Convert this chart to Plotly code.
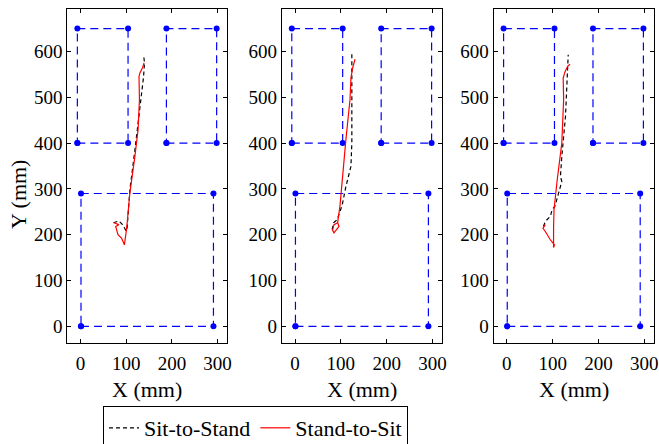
import plotly.graph_objects as go

# ---- data ----
rect_ul_x = [-7, 104, 104, -7, -7]
rect_ul_y = [400, 400, 650, 650, 400]
rect_ur_x = [188, 298, 298, 188, 188]
rect_ur_y = [400, 400, 650, 650, 400]
rect_lo_x = [1, 291, 291, 1, 1]
rect_lo_y = [0, 0, 290, 290, 0]

sit1_x = [72, 84, 92, 100, 102, 108, 119, 128, 134, 138, 140, 138]
sit1_y = [226, 230, 222, 208, 215, 298, 385, 458, 520, 545, 575, 593]
stand1_x = [139, 136, 130, 128, 129, 126, 119, 108, 101, 96, 90, 82, 77, 84, 73]
stand1_y = [575, 565, 553, 545, 495, 430, 371, 291, 214, 178, 192, 200, 218, 222, 226]

sit2_x = [81, 84, 92, 103, 111, 122, 124, 124, 125, 124]
sit2_y = [211, 226, 233, 265, 305, 349, 400, 480, 545, 600]
stand2_x = [131, 126, 122, 120, 111, 104, 98, 93, 96, 85, 82, 85, 93]
stand2_y = [583, 565, 542, 495, 407, 320, 262, 226, 218, 204, 210, 222, 226]

sit3_x = [80, 84, 95, 99, 105, 113, 120, 117, 120, 128, 131, 134]
sit3_y = [218, 229, 240, 255, 262, 294, 316, 327, 371, 458, 545, 593]
stand3_x = [138, 133, 127, 123, 124, 120, 110, 103, 102, 102, 104, 95, 84, 79, 84]
stand3_y = [572, 568, 556, 542, 495, 400, 320, 255, 215, 172, 178, 189, 207, 214, 222]

x_ticks = [0, 100, 200, 300]
y_ticks = [0, 100, 200, 300, 400, 500, 600]

sit_sets = [(sit1_x, sit1_y), (sit2_x, sit2_y), (sit3_x, sit3_y)]
stand_sets = [(stand1_x, stand1_y), (stand2_x, stand2_y), (stand3_x, stand3_y)]

FONT = "'Liberation Serif', 'Times New Roman', 'DejaVu Serif', serif"
W, H = 659, 444
x_domains = [[67.3 / W, 226.7 / W], [281.7 / W, 441.7 / W], [493.5 / W, 653.5 / W]]
y_domain = [1 - 343.3 / H, 1 - 9.3 / H]

fig = go.Figure()
for i in range(3):
    xa = "x" if i == 0 else f"x{i+1}"
    ya = "y" if i == 0 else f"y{i+1}"
    for rx, ry in [(rect_ul_x, rect_ul_y), (rect_ur_x, rect_ur_y), (rect_lo_x, rect_lo_y)]:
        fig.add_trace(go.Scatter(x=rx, y=ry, mode="lines+markers", xaxis=xa, yaxis=ya,
                                 line=dict(color="#0000ff", width=1.2, dash="8px,5px"),
                                 marker=dict(color="#0000ff", size=6),
                                 showlegend=False, hoverinfo="skip"))
    sx, sy = sit_sets[i]
    fig.add_trace(go.Scatter(x=sx, y=sy, mode="lines", xaxis=xa, yaxis=ya,
                             name="Sit-to-Stand", legendrank=1,
                             line=dict(color="black", width=1.2, dash="4px,3px"),
                             showlegend=(i == 0)))
    tx, ty = stand_sets[i]
    fig.add_trace(go.Scatter(x=tx, y=ty, mode="lines", xaxis=xa, yaxis=ya,
                             name="Stand-to-Sit", legendrank=2,
                             line=dict(color="#ff0000", width=1.2),
                             showlegend=(i == 0)))

axis_common = dict(showgrid=False, zeroline=False, showline=True, linecolor="black",
                   linewidth=1, mirror="ticks", ticks="inside", ticklen=4,
                   tickcolor="black", tickfont=dict(family=FONT, size=19, color="black"),
                   ticklabeloverflow="allow", automargin=False)
layout = dict(width=W, height=H, margin=dict(l=0, r=0, t=0, b=0, autoexpand=False),
              paper_bgcolor="white", plot_bgcolor="white",
              font=dict(family=FONT, size=19, color="black"))
for i in range(3):
    xk = "xaxis" if i == 0 else f"xaxis{i+1}"
    yk = "yaxis" if i == 0 else f"yaxis{i+1}"
    xa = "x" if i == 0 else f"x{i+1}"
    ya = "y" if i == 0 else f"y{i+1}"
    layout[xk] = dict(axis_common, domain=x_domains[i], range=[-29, 320],
                      tickvals=x_ticks, anchor=ya, ticklabelstandoff=3)
    layout[yk] = dict(axis_common, domain=y_domain, range=[-37, 692],
                      tickvals=y_ticks, anchor=xa)

annotations = []
for i in range(3):
    cx = (x_domains[i][0] + x_domains[i][1]) / 2
    annotations.append(dict(text="X (mm)", x=cx, y=1 - 389 / H, xref="paper", yref="paper",
                            showarrow=False, xanchor="center", yanchor="middle",
                            font=dict(family=FONT, size=22, color="black")))
annotations.append(dict(text="Y (mm)", x=18 / W, y=1 - 195 / H, xref="paper", yref="paper",
                        showarrow=False, textangle=-90, xanchor="center", yanchor="middle",
                        font=dict(family=FONT, size=22, color="black")))
layout["annotations"] = annotations
layout["legend"] = dict(orientation="h", x=103 / W, y=1 - 406 / H, xanchor="left", yanchor="top",
                        bordercolor="black", borderwidth=1, bgcolor="white",
                        font=dict(family=FONT, size=22, color="black"),
                        itemwidth=30, tracegroupgap=0)
fig.update_layout(**layout)
fig.write_html("out.html", config={"displayModeBar": False},
               post_script="document.body.style.margin='0px';document.body.style.overflow='hidden';")
